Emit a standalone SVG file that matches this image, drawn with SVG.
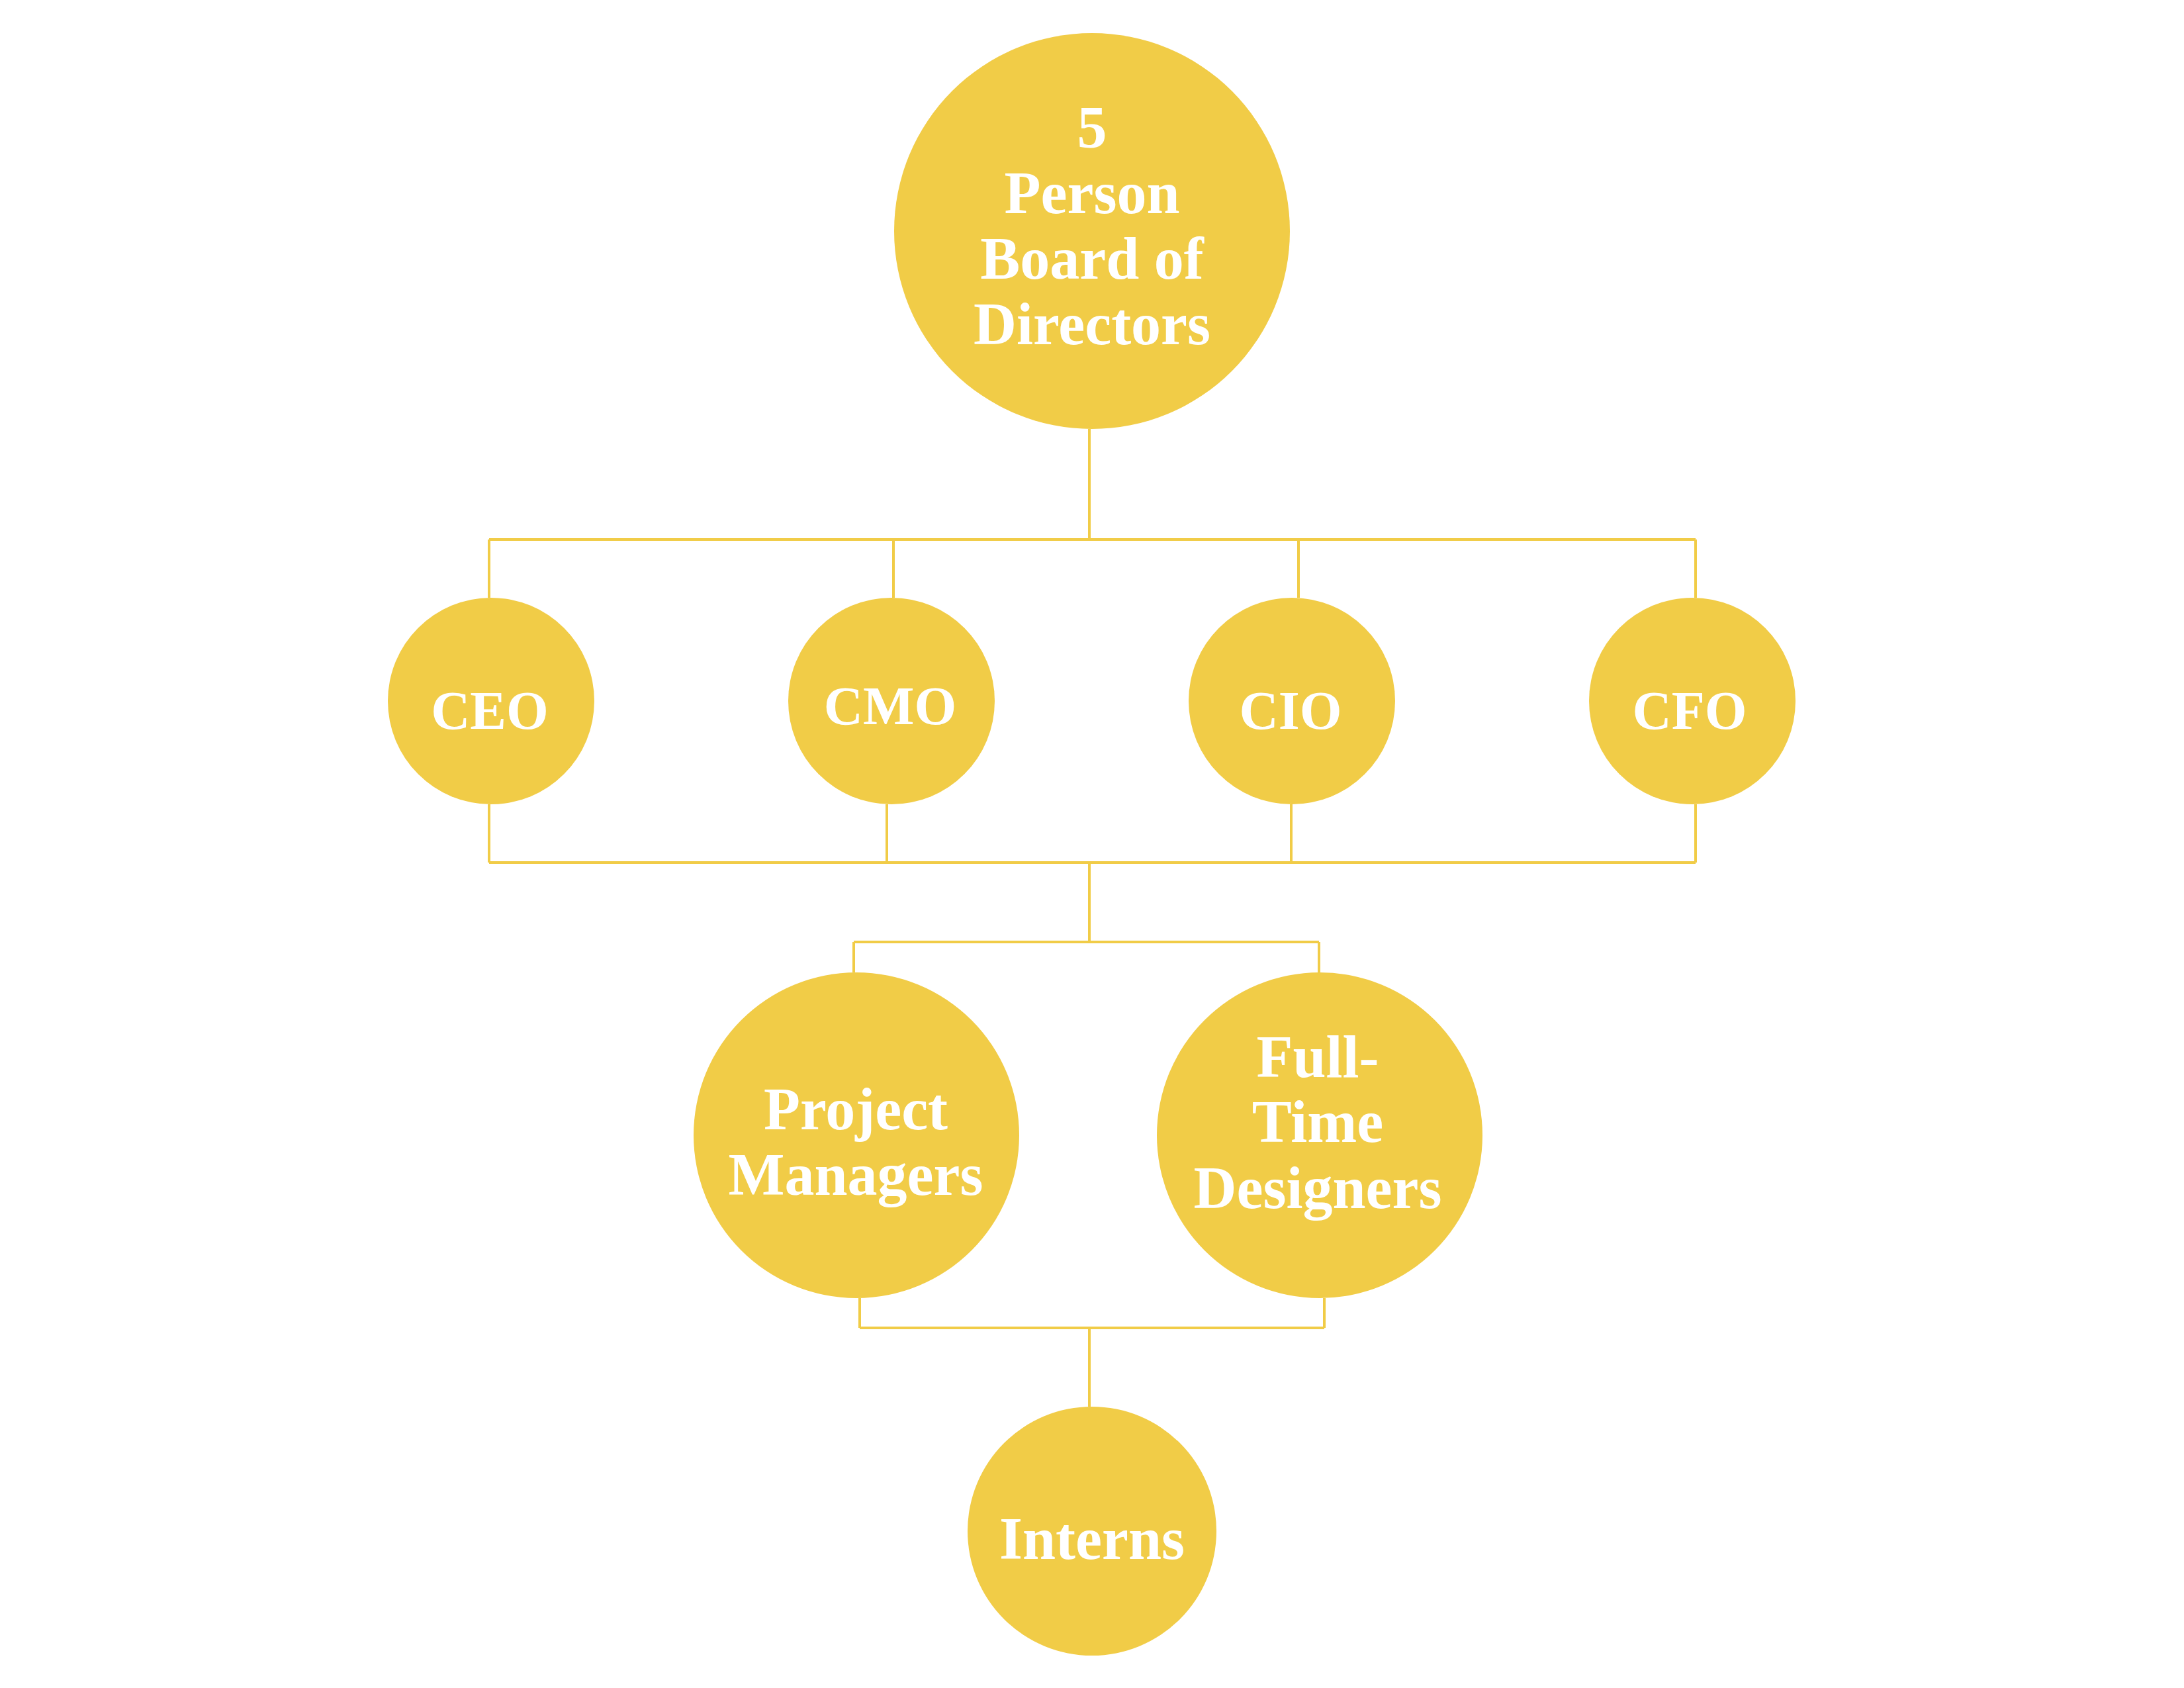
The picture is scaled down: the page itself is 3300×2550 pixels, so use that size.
<svg xmlns="http://www.w3.org/2000/svg" width="3300" height="2550" viewBox="0 0 3300 2550">
<style>
.node{fill:#F1CC47}
.lbl{font-family:"Liberation Serif","Times New Roman",serif;font-weight:bold;font-size:90px;fill:#FFFFFF;text-anchor:middle}
.cap{font-size:82px}
.conn{fill:none;stroke:#F1CC47;stroke-width:4}
</style>
<rect width="3300" height="2550" fill="#FFFFFF"/>
<g id="connectors">
<path class="conn" d="M1646,648 V815 M739,815 H2562 M739,815 V903 M1350,815 V903 M1962,815 V903 M2562,815 V903"/>
<path class="conn" d="M739,1215 V1303 M1340,1215 V1303 M1951,1215 V1303 M2562,1215 V1303 M739,1303 H2562"/>
<path class="conn" d="M1646,1303 V1423 M1290,1423 H1993 M1290,1423 V1469 M1993,1423 V1469"/>
<path class="conn" d="M1299,1961 V2006 M2001,1961 V2006 M1299,2006 H2001 M1646,2006 V2125"/>
</g>
<g id="board">
<circle class="node" cx="1650" cy="349" r="299"/>
<text class="lbl" x="1650" y="223">5</text>
<text class="lbl" x="1650" y="322">Person</text>
<text class="lbl" x="1650" y="421">Board of</text>
<text class="lbl" x="1650" y="520">Directors</text>
</g>
<g id="ceo">
<circle class="node" cx="742" cy="1059" r="156"/>
<text class="lbl cap" x="740" y="1101">CEO</text>
</g>
<g id="cmo">
<circle class="node" cx="1347" cy="1059" r="156"/>
<text class="lbl cap" x="1345" y="1094">CMO</text>
</g>
<g id="cio">
<circle class="node" cx="1952" cy="1059" r="156"/>
<text class="lbl cap" x="1950" y="1101">CIO</text>
</g>
<g id="cfo">
<circle class="node" cx="2557" cy="1059" r="156"/>
<text class="lbl cap" x="2553" y="1101">CFO</text>
</g>
<g id="pm">
<circle class="node" cx="1294" cy="1715" r="246"/>
<text class="lbl" x="1293" y="1706">Project</text>
<text class="lbl" x="1293" y="1805">Managers</text>
</g>
<g id="ftd">
<circle class="node" cx="1994" cy="1715" r="246"/>
<text class="lbl" x="1991" y="1627">Full-</text>
<text class="lbl" x="1991" y="1725">Time</text>
<text class="lbl" x="1991" y="1825">Designers</text>
</g>
<g id="interns">
<circle class="node" cx="1650" cy="2313" r="188"/>
<text class="lbl" x="1650" y="2355">Interns</text>
</g>
</svg>
